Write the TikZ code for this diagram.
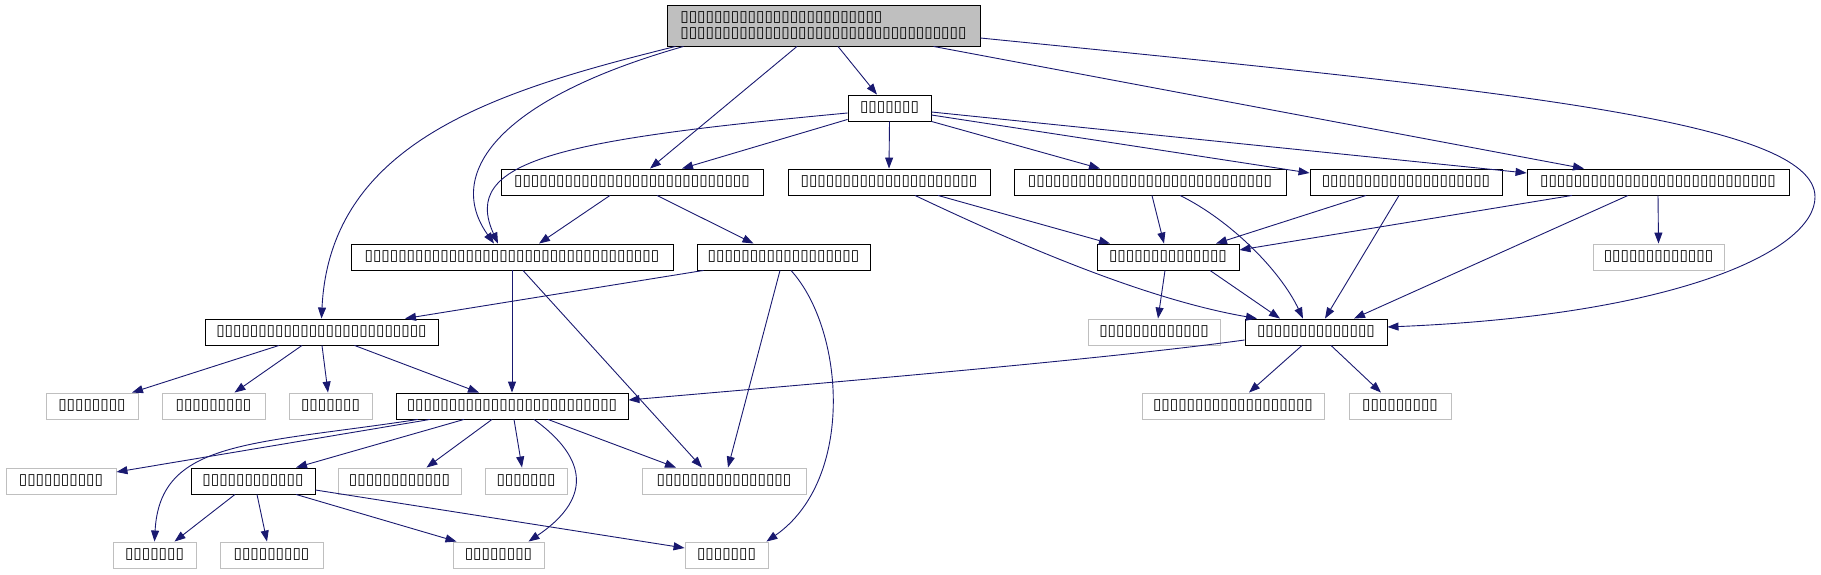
\documentclass[tikz,border=0pt]{standalone}
\usepackage{fontspec}
\setmainfont{DejaVu Sans}
\usetikzlibrary{arrows.meta}
\definecolor{edgeblue}{RGB}{25,25,112}
\definecolor{extgray}{RGB}{191,191,191}

\begin{document}
\begin{tikzpicture}[x=1pt, y=-1pt,
  box/.style={draw=black, line width=0.9pt, fill=white, inner sep=0pt, minimum height=26pt, font=\fontsize{15.3}{16}\selectfont},
  ext/.style={box, draw=extgray},
  root/.style={box, fill=extgray, align=left, minimum height=41pt},
  arr/.style={-{Triangle[length=11pt,width=8pt]}, color=edgeblue, line width=0.9pt}
]
\useasboundingbox (0,0) rectangle (1821,575);
% top
\node[root, minimum width=313] (root) at (823.5,25.5) {▯▯▯▯▯▯▯▯▯▯▯▯▯▯▯▯▯▯▯▯▯▯▯▯\\▯▯▯▯▯▯▯▯▯▯▯▯▯▯▯▯▯▯▯▯▯▯▯▯▯▯▯▯▯▯▯▯▯▯};
\node[box, minimum width=83] (a) at (889.5,108) {▯▯▯▯▯▯▯};
% row 3
\node[box, minimum width=262] (b) at (632,182) {▯▯▯▯▯▯▯▯▯▯▯▯▯▯▯▯▯▯▯▯▯▯▯▯▯▯▯▯};
\node[box, minimum width=202] (c) at (889,182) {▯▯▯▯▯▯▯▯▯▯▯▯▯▯▯▯▯▯▯▯▯};
\node[box, minimum width=272] (d) at (1150,182) {▯▯▯▯▯▯▯▯▯▯▯▯▯▯▯▯▯▯▯▯▯▯▯▯▯▯▯▯▯};
\node[box, minimum width=192] (e) at (1406,182) {▯▯▯▯▯▯▯▯▯▯▯▯▯▯▯▯▯▯▯▯};
\node[box, minimum width=262] (f) at (1658,182) {▯▯▯▯▯▯▯▯▯▯▯▯▯▯▯▯▯▯▯▯▯▯▯▯▯▯▯▯};
% row 4
\node[box, minimum width=322] (g) at (512,257) {▯▯▯▯▯▯▯▯▯▯▯▯▯▯▯▯▯▯▯▯▯▯▯▯▯▯▯▯▯▯▯▯▯▯▯};
\node[box, minimum width=173] (h) at (783.5,257) {▯▯▯▯▯▯▯▯▯▯▯▯▯▯▯▯▯▯};
\node[box, minimum width=142] (j) at (1168,257) {▯▯▯▯▯▯▯▯▯▯▯▯▯▯};
\node[ext, minimum width=131] (i) at (1658.5,257) {▯▯▯▯▯▯▯▯▯▯▯▯▯};
% row 5
\node[box, minimum width=233] (k) at (321.5,332) {▯▯▯▯▯▯▯▯▯▯▯▯▯▯▯▯▯▯▯▯▯▯▯▯▯};
\node[ext, minimum width=132] (l) at (1154,332) {▯▯▯▯▯▯▯▯▯▯▯▯▯};
\node[box, minimum width=142] (m) at (1316,332) {▯▯▯▯▯▯▯▯▯▯▯▯▯▯};
% row 6
\node[ext, minimum width=92] (s1) at (92,406) {▯▯▯▯▯▯▯▯};
\node[ext, minimum width=103] (s2) at (213.5,406) {▯▯▯▯▯▯▯▯▯};
\node[ext, minimum width=83] (s3) at (330.5,406) {▯▯▯▯▯▯▯};
\node[box, minimum width=232] (n) at (512,406) {▯▯▯▯▯▯▯▯▯▯▯▯▯▯▯▯▯▯▯▯▯▯▯▯▯};
\node[ext, minimum width=182] (s4) at (1233,406) {▯▯▯▯▯▯▯▯▯▯▯▯▯▯▯▯▯▯▯};
\node[ext, minimum width=102] (s5) at (1400,406) {▯▯▯▯▯▯▯▯▯};
% row 7
\node[ext, minimum width=110] (s6) at (61,481) {▯▯▯▯▯▯▯▯▯▯};
\node[box, minimum width=124] (p) at (253,481) {▯▯▯▯▯▯▯▯▯▯▯▯};
\node[ext, minimum width=123] (s7) at (399.5,481) {▯▯▯▯▯▯▯▯▯▯▯▯};
\node[ext, minimum width=82] (s8) at (526,481) {▯▯▯▯▯▯▯};
\node[ext, minimum width=164] (s9) at (724,481) {▯▯▯▯▯▯▯▯▯▯▯▯▯▯▯▯};
% row 8
\node[ext, minimum width=83] (s10) at (154.5,555) {▯▯▯▯▯▯▯};
\node[ext, minimum width=103] (s11) at (271.5,555) {▯▯▯▯▯▯▯▯▯};
\node[ext, minimum width=91] (s12) at (498.5,555) {▯▯▯▯▯▯▯▯};
\node[ext, minimum width=83] (s13) at (726.5,555) {▯▯▯▯▯▯▯};
% edges from the top file
\draw[arr] ([xshift=14.5pt]root.south) -- ([xshift=-12.5pt]a.north);
\draw[arr] ([xshift=-26.5pt]root.south) -- ([xshift=18pt]b.north);
\draw[arr] ([xshift=-140pt]root.south) .. controls (495,100) and (445,175) .. ([xshift=-18pt]g.north);
\draw[arr] ([xshift=-148pt]root.south) .. controls (500,90) and (330,140) .. (k.north);
\draw[arr] ([xshift=110pt]root.south) -- ([xshift=-74pt]f.north);
\draw[arr] ([yshift=-12.5pt]root.east) .. controls (1500,90) and (1815,120) .. (1815,197)
  .. controls (1815,250) and (1680,315) .. ([yshift=5pt]m.east);
% edges from a
\draw[arr] ([yshift=-5pt]a.west) .. controls (560,140) and (460,160) .. ([xshift=-14pt]g.north);
\draw[arr] ([yshift=2pt]a.south west) -- ([xshift=50pt]b.north);
\draw[arr] (a.south) -- (c.north);
\draw[arr] (a.south east) -- ([xshift=-50pt]d.north);
\draw[arr] ([yshift=-7pt]a.east) -- ([yshift=9pt]e.west);
\draw[arr] ([yshift=-4pt]a.east) -- ([yshift=9pt]f.west);
% row 3 edges
\draw[arr] ([xshift=-22pt]b.south) -- ([xshift=27pt]g.north);
\draw[arr] ([xshift=25pt]b.south) -- ([xshift=-30pt]h.north);
\draw[arr] ([xshift=26pt]c.south) .. controls (1030,250) and (1150,300) .. ([xshift=-59pt]m.north);
\draw[arr] ([xshift=49pt]c.south) -- ([xshift=-58pt]j.north);
\draw[arr] ([xshift=2pt]d.south) -- ([xshift=-4pt]j.north);
\draw[arr] ([xshift=30pt]d.south) .. controls (1230,220) and (1280,270) .. ([xshift=-13pt]m.north);
\draw[arr] ([xshift=-40pt]e.south) -- ([xshift=48pt]j.north);
\draw[arr] ([xshift=-7pt]e.south) -- ([xshift=9pt]m.north);
\draw[arr] ([xshift=-86pt]f.south) -- ([yshift=7pt]j.east);
\draw[arr] (f.south) -- (i.north);
\draw[arr] ([xshift=-30pt]f.south) -- ([xshift=38pt]m.north);
% row 4 edges
\draw[arr] (g.south) -- (n.north);
\draw[arr] ([xshift=11pt]g.south) -- ([xshift=-22pt]s9.north);
\draw[arr] ([xshift=-80pt]h.south) -- ([xshift=83.5pt]k.north);
\draw[arr] ([xshift=-3.5pt]h.south) -- ([xshift=4pt]s9.north);
\draw[arr] ([xshift=7.5pt]h.south) .. controls (845,330) and (855,480) .. ([xshift=-2pt]s13.north east);
\draw[arr] ([xshift=-3pt]j.south) -- ([xshift=4pt]l.north);
\draw[arr] ([xshift=42pt]j.south) -- ([xshift=-36pt]m.north);
% row 5 edges
\draw[arr] ([xshift=-42.5pt]k.south) -- ([xshift=40pt]s1.north);
\draw[arr] ([xshift=-19.5pt]k.south) -- ([xshift=21pt]s2.north);
\draw[arr] ([xshift=0.5pt]k.south) -- ([xshift=-2.5pt]s3.north);
\draw[arr] ([xshift=33pt]k.south) -- ([xshift=-33pt]n.north);
\draw[arr] ([yshift=-8pt]m.west) .. controls (1100,360) and (800,385) .. ([yshift=6pt]n.east);
\draw[arr] ([xshift=-14pt]m.south) -- ([xshift=16pt]s4.north);
\draw[arr] ([xshift=15pt]m.south) -- ([xshift=-19pt]s5.north);
% row 6 edges
\draw[arr] ([xshift=-82pt]n.south) -- ([yshift=9pt]s6.east);
\draw[arr] ([xshift=-94pt]n.south) .. controls (250,445) and (160,440) .. (s10.north);
\draw[arr] ([xshift=-48pt]n.south) -- ([xshift=43pt]p.north);
\draw[arr] ([xshift=-20pt]n.south) -- ([xshift=27pt]s7.north);
\draw[arr] ([xshift=2pt]n.south) -- ([xshift=-4pt]s8.north);
\draw[arr] ([xshift=22pt]n.south) .. controls (590,460) and (590,500) .. ([xshift=30pt]s12.north);
\draw[arr] ([xshift=36pt]n.south) -- ([xshift=-48pt]s9.north);
% row 7 edges
\draw[arr] ([xshift=-18pt]p.south) -- ([xshift=20pt]s10.north);
\draw[arr] ([xshift=4pt]p.south) -- ([xshift=-4.5pt]s11.north);
\draw[arr] ([xshift=43pt]p.south) -- ([xshift=-42pt]s12.north);
\draw[arr] ([yshift=-9pt]p.east) -- ([yshift=7pt]s13.west);
\end{tikzpicture}
\end{document}
